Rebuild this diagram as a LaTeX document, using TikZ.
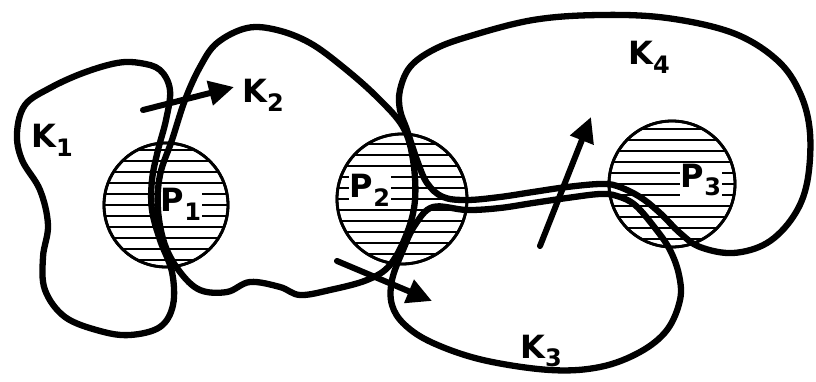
\documentclass[tikz,border=0pt]{standalone}
\usepackage{fontspec}
\setmainfont{DejaVu Sans}
\usetikzlibrary{arrows.meta}
\newcommand\lbl[2]{#1\raisebox{-0.5ex}{\fontsize{24}{24}\selectfont #2}}
\tikzset{
  loopline/.style={line width=6.3pt, line join=round, line cap=round},
  disk/.style={circle, draw, line width=2.8pt, inner sep=0pt},
  hatchline/.style={line width=2.6pt},
  lab/.style={font=\fontsize{32}{32}\selectfont\bfseries, inner sep=1pt},
  labw/.style={lab, fill=white},
  bigarrow/.style={line width=6pt, line cap=round, -{Triangle[length=25pt,width=24pt]}},
}
\newcommand\hatchdisk[4]{% name, cx, cy, r
  \begin{scope}
    \clip (#2,#3) circle (#4);
    \foreach \dy in {-66,-55,...,66} \draw[hatchline] (#2-#4-5,#3+\dy) -- (#2+#4+5,#3+\dy);
  \end{scope}
  \node[disk, minimum size=2*#4] (#1) at (#2,#3) {};
}
\begin{document}
\begin{tikzpicture}[x=1pt,y=-1pt]
\useasboundingbox (0,0) rectangle (816,382);
\fill[white] (0,0) rectangle (816,382);
% hatched disks
\hatchdisk{P1c}{166}{205}{62}
\hatchdisk{P2c}{402}{199}{65}
\hatchdisk{P3c}{672}{184}{63}
% labels inside disks
\node[labw] (p1) at (181,204) {\lbl{P}{1}};
\node[labw] (p2) at (370,190) {\lbl{P}{2}};
\node[labw] (p3) at (701,180) {\lbl{P}{3}};
\draw[line width=2.8pt] (P1c) circle (62);
\draw[line width=2.8pt] (P2c) circle (65);
\draw[line width=2.8pt] (P3c) circle (63);
% K1
\draw[loopline] plot[smooth cycle, tension=0.6] coordinates {
 (117,63) (83,73) (50,88) (25,105) (17,133) (22,160) (40,190) (48,225)
 (43,257) (45,290) (65,317) (100,331) (130,335) (160,327) (173,305) (172,272)
 (160,240) (152,210) (152,180) (158,150) (166,120) (170,90) (160,70) (140,63)};
% K2
\draw[loopline] plot[smooth cycle, tension=0.6] coordinates {
 (403,127) (413,160) (415,200) (407,233) (390,265) (367,280) (330,290) (300,295)
 (280,287) (250,282) (227,292) (200,290) (180,272) (165,245) (158,210) (160,175)
 (172,140) (185,100) (200,67) (217,43) (247,28) (277,30) (310,43) (343,67) (377,97)};
% K3
\draw[loopline] plot[smooth cycle, tension=0.6] coordinates {
 (433,207) (467,210) (500,208) (533,203) (567,198) (600,194) (617,196) (635,205)
 (655,228) (670,250) (679,275) (680,300) (667,330) (640,352) (600,367) (550,370)
 (483,360) (433,343) (405,325) (392,305) (392,280) (403,250) (415,225)};
% K4
\draw[loopline] plot[smooth cycle, tension=0.6] coordinates {
 (400,90) (410,67) (433,50) (467,37) (533,20) (600,15) (667,18) (733,33)
 (777,60) (800,93) (810,133) (807,183) (793,217) (767,243) (733,253) (700,247)
 (680,233) (660,213) (640,197) (617,186) (600,184) (567,187) (533,192) (500,197)
 (467,200) (443,197) (427,183) (417,160) (407,130) (400,110)};
% region labels
\node[lab] (k1) at (52,140) {\lbl{K}{1}};
\node[lab] (k2) at (263,95) {\lbl{K}{2}};
\node[lab] (k3) at (541,351) {\lbl{K}{3}};
\node[lab] (k4) at (649,57) {\lbl{K}{4}};
% arrows
\coordinate (a1s) at (143,110); \coordinate (a1e) at (234,87);
\coordinate (a2s) at (337,261); \coordinate (a2e) at (432,301);
\coordinate (a3s) at (540,246); \coordinate (a3e) at (591,117);
\draw[bigarrow] (a1s) -- (a1e);
\draw[bigarrow] (a2s) -- (a2e);
\draw[bigarrow] (a3s) -- (a3e);
\end{tikzpicture}
\end{document}
